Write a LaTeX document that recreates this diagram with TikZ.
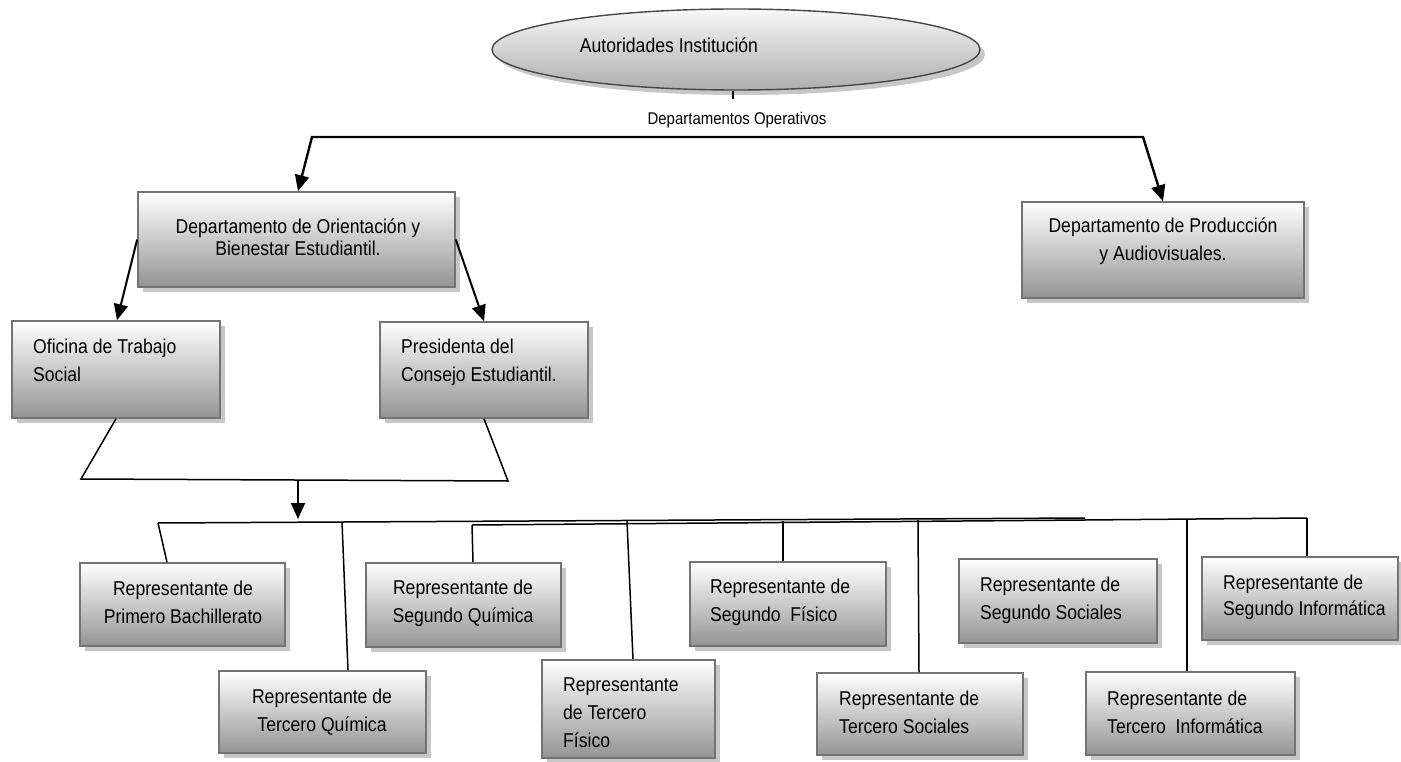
\documentclass[tikz,border=0pt]{standalone}
\usepackage{fontspec}
\setmainfont[FakeStretch=0.88]{Liberation Sans}
\usetikzlibrary{arrows.meta,shadows,shapes.geometric}
\begin{document}
\begin{tikzpicture}[x=1pt,y=-1pt,
  box/.style={draw=black!55, line width=1.6pt, top color=white, middle color=black!12, bottom color=black!42,
    drop shadow={shadow xshift=5pt, shadow yshift=-5pt, fill=black!22, opacity=1}, inner sep=0pt},
  ell/.style={ellipse, draw=black!72, line width=1.4pt, top color=black!3, bottom color=black!32,
    drop shadow={shadow xshift=5pt, shadow yshift=-5pt, fill=black!22, opacity=1}, inner sep=0pt},
  txt/.style={inner sep=0pt, font=\fontsize{20}{28}\selectfont},
  arr/.style={line width=2pt, -{Triangle[length=16pt,width=14pt]}},
  ln/.style={line width=1.5pt}
]
\useasboundingbox (0,0) rectangle (1401,762);

% top
\node[ell, minimum width=488pt, minimum height=81pt] (auto) at (736,49.5) {};
\node[txt] (autot) at (669,45) {Autoridades Institución};
\coordinate (tick) at (733,99);
\draw[line width=1.2pt] ([xshift=-3pt]auto.south) -- (tick);
\node[inner sep=0pt, font=\fontsize{17}{20}\selectfont] (depto) at (737,120) {Departamentos Operativos};

% departments
\node[box, minimum width=317pt, minimum height=95pt] (ori) at (296.5,239.5) {};
\node[txt, align=center, font=\fontsize{20}{22}\selectfont] (orit) at (298,237) {Departamento de Orientación y\\Bienestar Estudiantil.};
\node[box, minimum width=282pt, minimum height=96pt] (prod) at (1163,250) {};
\node[txt, align=center] (prodt) at (1163,241) {Departamento de Producción\\y Audiovisuales.};

\coordinate (tl) at (312,137);
\coordinate (tr) at (1143,137);
\draw[line width=2.4pt, {Triangle[length=16pt,width=14pt]}-{Triangle[length=16pt,width=14pt]}]
  ([xshift=1.5pt]ori.north) -- (tl) -- (tr) -- (prod.north);

% second level
\node[box, minimum width=208pt, minimum height=97pt] (ofi) at (116,369.5) {};
\node[txt, align=left, anchor=west] (ofit) at (33,360.5) {Oficina de Trabajo\\Social};
\node[box, minimum width=208pt, minimum height=96pt] (pres) at (484,370) {};
\node[txt, align=left, anchor=west] (prest) at (401,362) {Presidenta del\\Consejo Estudiantil.};

\draw[arr] (ori.west) -- ([xshift=1pt]ofi.north);
\draw[arr] (ori.east) -- (pres.north);

% merge
\coordinate (vl) at (81,479);
\coordinate (vr) at (508,481);
\coordinate (vm) at (298,480);
\coordinate (vb) at (298,519);
\draw[ln] (ofi.south) -- (vl) -- (vr) -- (pres.south);
\draw[arr] (vm) -- (vb);

% representatives
\node[box, minimum width=205pt, minimum height=83pt] (prim) at (182.5,604.5) {};
\node[txt, align=center] (primt) at (183,602.5) {Representante de\\Primero Bachillerato};
\node[box, minimum width=207pt, minimum height=82pt] (terq) at (322.5,712) {};
\node[txt, align=center] (terqt) at (322,712.5) {Representante de\\Tercero Química};
\node[box, minimum width=195pt, minimum height=84pt] (segq) at (463.5,605) {};
\node[txt, align=center] (segqt) at (463,603.5) {Representante de\\Segundo Química};
\node[box, minimum width=173pt, minimum height=98pt] (terf) at (628.5,709) {};
\node[txt, align=left, anchor=west] (terft) at (563,713) {Representante\\de Tercero\\Físico};
\node[box, minimum width=196pt, minimum height=84pt] (segf) at (788,604) {};
\node[txt, align=left, anchor=west] (segft) at (710,602.5) {Representante de\\Segundo~~Físico};
\node[box, minimum width=198pt, minimum height=84pt] (segs) at (1058,601) {};
\node[txt, align=left, anchor=west] (segst) at (980,600) {Representante de\\Segundo Sociales};
\node[box, minimum width=206pt, minimum height=82pt] (ters) at (920,714) {};
\node[txt, align=left, anchor=west] (terst) at (839,712.5) {Representante de\\Tercero Sociales};
\node[box, minimum width=196pt, minimum height=83pt] (seginf) at (1300,598.5) {};
\node[txt, align=left, anchor=west, font=\fontsize{20}{26}\selectfont] (seginft) at (1223,597.5) {Representante de\\Segundo Informática};
\node[box, minimum width=209pt, minimum height=83pt] (terinf) at (1190.5,713.5) {};
\node[txt, align=left, anchor=west] (terinft) at (1107,712) {Representante de\\Tercero~~Informática};

% bus
\coordinate (b0) at (158,523);
\coordinate (b1) at (1085,518);
\coordinate (b2) at (472,525);
\coordinate (b3) at (1085,520);
\coordinate (b4) at (1307,518);
\coordinate (d2) at (342,522);
\coordinate (d4) at (627,521);
\coordinate (d5) at (783,521);
\coordinate (d6) at (918,520);
\coordinate (d7) at (1187,519);
\draw[ln] (b0) -- (b1);
\draw[ln] (b2) -- (b3) -- (b4);
\draw[ln] (b0) -- ([xshift=-15.5pt]prim.north);
\draw[ln] (d2) -- ([xshift=25.5pt]terq.north);
\draw[ln] (b2) -- ([xshift=9.5pt]segq.north);
\draw[ln] (d4) -- ([xshift=4.5pt]terf.north);
\draw[ln] (d5) -- ([xshift=-5pt]segf.north);
\draw[ln] (d6) -- ([xshift=-1pt]ters.north);
\draw[ln] (d7) -- ([xshift=-3.5pt]terinf.north);
\draw[ln] (b4) -- ([xshift=7pt]seginf.north);
\end{tikzpicture}
\end{document}
